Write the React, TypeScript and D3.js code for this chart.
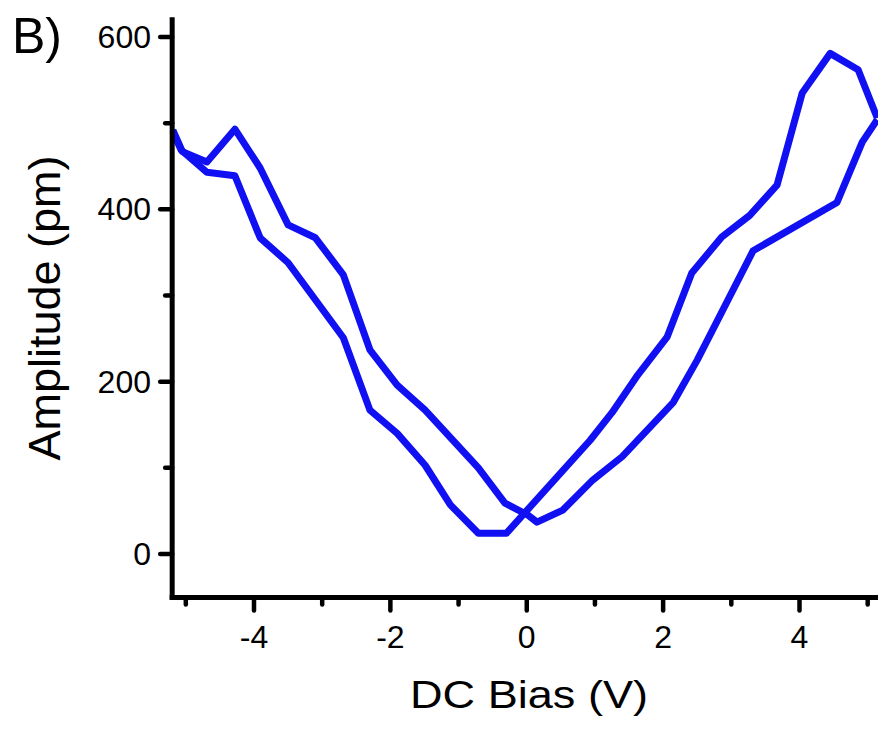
import React from "react";
import * as d3 from "d3";

// ---- data ----
const sweepABias = [-5.19, -5.05, -4.69, -4.28, -3.91, -3.5, -3.1, -2.69, -2.3, -1.9, -1.49, -0.71, -0.32, 0.02, 0.15, 0.53, 0.97, 1.4, 2.15, 2.5, 3.32, 4.55, 4.92, 5.14];
const sweepAAmp = [492, 467, 455, 493, 448, 382, 367, 324, 237, 196, 167, 100, 59, 45, 37, 51, 86, 113, 176, 225, 352, 408, 478, 504];

const sweepBBias = [-5.19, -5.07, -4.69, -4.28, -3.91, -3.5, -2.69, -2.3, -1.9, -1.49, -1.12, -0.71, -0.3, 0.93, 1.25, 1.63, 2.06, 2.42, 2.86, 3.27, 3.67, 4.04, 4.45, 4.86, 5.14];
const sweepBAmp = [490, 469, 443, 439, 367, 338, 251, 167, 140, 103, 57, 24, 24, 132, 164, 208, 252, 326, 368, 393, 428, 535, 581, 562, 506];

const xMajorTicks = [-4, -2, 0, 2, 4];
const xMinorTicks = [-5, -3, -1, 1, 3, 5];
const yMajorTicks = [0, 200, 400, 600];
const yMinorTicks = [100, 300, 500];

const xTitle = "DC Bias (V)";
const yTitle = "Amplitude (pm)";
const panelLabel = "B)";

const W = 878;
const H = 729;
const FONT = "'Liberation Sans', Arial, sans-serif";
const LINE_COLOR = "#1010f2";

export default function App() {
  const x = d3.scaleLinear().domain([-4, 4]).range([254, 799.5]);
  const y = d3.scaleLinear().domain([0, 600]).range([554, 37]);

  const xLeft = x(-5.2);
  const xRight = W + 5;
  const yTop = y(623);
  const yBottom = 597.5;
  const axisX = xLeft;

  const line = d3
    .line<[number, number]>()
    .x((d) => x(d[0]))
    .y((d) => y(d[1]));

  const seriesA: [number, number][] = sweepABias.map((b, i) => [b, sweepAAmp[i]]);
  const seriesB: [number, number][] = sweepBBias.map((b, i) => [b, sweepBAmp[i]]);

  return (
    <div style={{ position: "absolute", left: 0, top: 0 }}>
      <svg width={W} height={H} style={{ display: "block", background: "#fff" }}>
        {/* data lines */}
        <g fill="none" stroke={LINE_COLOR} strokeWidth={7} strokeLinejoin="round" strokeLinecap="butt">
          <path d={line(seriesA) || ""} />
          <path d={line(seriesB) || ""} />
        </g>

        {/* axes */}
        <g stroke="#000" strokeLinecap="round">
          <line x1={axisX} x2={axisX} y1={yTop} y2={yBottom + 2} strokeWidth={5} strokeLinecap="butt" />
          <line x1={axisX - 2.5} x2={xRight} y1={yBottom} y2={yBottom} strokeWidth={5} strokeLinecap="butt" />
          {yMajorTicks.map((t) => (
            <line key={"ym" + t} x1={axisX - 12} x2={axisX} y1={y(t)} y2={y(t)} strokeWidth={4.5} />
          ))}
          {yMinorTicks.map((t) => (
            <line key={"yn" + t} x1={axisX - 7} x2={axisX} y1={y(t)} y2={y(t)} strokeWidth={4.5} />
          ))}
          {xMajorTicks.map((t) => (
            <line key={"xm" + t} x1={x(t)} x2={x(t)} y1={yBottom} y2={yBottom + 13} strokeWidth={4.5} />
          ))}
          {xMinorTicks.map((t) => (
            <line key={"xn" + t} x1={x(t)} x2={x(t)} y1={yBottom} y2={yBottom + 7} strokeWidth={4.5} />
          ))}
        </g>

        {/* tick labels */}
        <g fontFamily={FONT} fontSize={32} fill="#000">
          {yMajorTicks.map((t) => (
            <text key={"yl" + t} x={151} y={y(t) + 11} textAnchor="end">
              {String(t)}
            </text>
          ))}
          {xMajorTicks.map((t) => (
            <text key={"xl" + t} x={x(t)} y={648} textAnchor="middle">
              {t < 0 ? "-" + Math.abs(t) : String(t)}
            </text>
          ))}
        </g>

        {/* titles */}
        <text
          x={529}
          y={708}
          textAnchor="middle"
          fontFamily={FONT}
          fontSize={38}
          textLength={238}
          lengthAdjust="spacingAndGlyphs"
        >
          {xTitle}
        </text>
        <text
          transform={`translate(60, 308) rotate(-90)`}
          textAnchor="middle"
          fontFamily={FONT}
          fontSize={45}
        >
          {yTitle}
        </text>
        <text x={12} y={53} fontFamily={FONT} fontSize={50}>
          {panelLabel}
        </text>
      </svg>
    </div>
  );
}
